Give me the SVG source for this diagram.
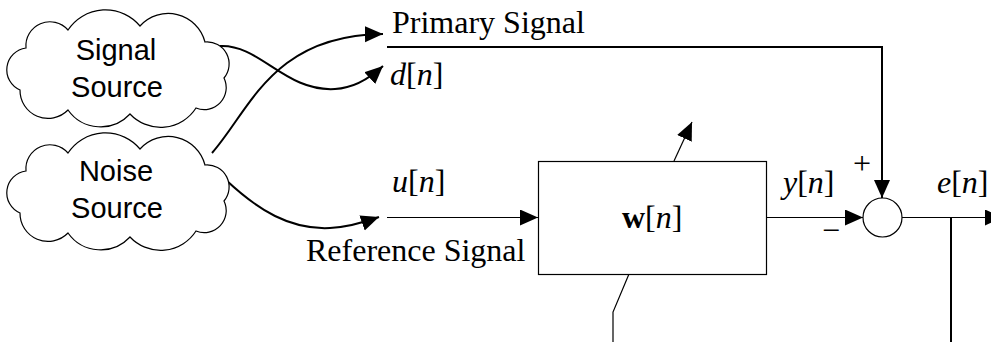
<svg xmlns="http://www.w3.org/2000/svg" xmlns:xlink="http://www.w3.org/1999/xlink" width="991" height="342" viewBox="0 0 991 342">
<style>
.cloud{fill:#fff;stroke:#000;stroke-width:1.2}
.ctext{font-family:"Liberation Sans",Arial,sans-serif;font-size:29px;text-anchor:middle;fill:#000}
.t{font-family:"Liberation Serif","Times New Roman",serif;font-size:32px;fill:#000}
.i{font-style:italic}
.b{font-weight:bold}
.thick{fill:none;stroke:#000;stroke-width:2}
.thin{fill:none;stroke:#000;stroke-width:1.2}
</style>
<defs>
<marker id="ah" markerWidth="20" markerHeight="18" refX="18" refY="8" orient="auto" markerUnits="userSpaceOnUse">
<path d="M0,0 L18,8 L0,16 z" fill="#000"/>
</marker>
<path id="cloudShape" d="M26,48 A24,24 0 0 1 68,30 A45,45 0 0 1 140,26 A38,38 0 0 1 205,42 A22,22 0 0 1 224,78 A22,22 0 0 1 196,108 A42,42 0 0 1 130,114 A40,40 0 0 1 68,110 A28,28 0 0 1 20,90 A22,22 0 0 1 26,48 Z"/>
</defs>
<g id="connectors">
<path class="thick" d="M220,46 C260,44 285,92 335,89 C355,88 370,78 383,66" marker-end="url(#ah)"/>
<path class="thick" d="M212,153 C250,110 272,35 383,34" marker-end="url(#ah)"/>
<path class="thick" d="M226,180 C258,210 290,230 330,228 C350,227 365,222 379,217" marker-end="url(#ah)"/>
<polyline class="thick" points="387,47 882,47 882,198" marker-end="url(#ah)"/>
<line class="thin" x1="387" y1="217.5" x2="538" y2="217.5" marker-end="url(#ah)"/>
<line class="thin" x1="766" y1="217.5" x2="863" y2="217.5" marker-end="url(#ah)"/>
<line class="thin" x1="902" y1="217.5" x2="1003" y2="217.5" marker-end="url(#ah)"/>
<line class="thick" x1="951" y1="217.5" x2="951" y2="342"/>
<line class="thin" x1="674" y1="161" x2="692" y2="122" marker-end="url(#ah)"/>
<polyline class="thin" points="629,274 613,312 613,342"/>
</g>
<g id="signal-source">
<use xlink:href="#cloudShape" class="cloud"/>
<text class="ctext" x="116" y="60">Signal</text>
<text class="ctext" x="117" y="97">Source</text>
</g>
<g id="noise-source">
<use xlink:href="#cloudShape" class="cloud" transform="translate(0,123)"/>
<text class="ctext" x="116" y="181">Noise</text>
<text class="ctext" x="117" y="218">Source</text>
</g>
<g id="filter">
<rect x="538.5" y="161.5" width="228" height="113" fill="#fff" stroke="#000" stroke-width="1.2"/>
<text class="t" x="622" y="228"><tspan class="b">w</tspan>[<tspan class="i">n</tspan>]</text>
</g>
<g id="summer">
<circle cx="882.5" cy="217.5" r="19.5" fill="#fff" stroke="#000" stroke-width="1.2"/>
<text class="t" x="862" y="174" text-anchor="middle" font-size="27">+</text>
<text class="t" x="831" y="241" text-anchor="middle">−</text>
</g>
<g id="labels">
<text class="t" x="392" y="33">Primary Signal</text>
<text class="t" x="390" y="85"><tspan class="i">d</tspan>[<tspan class="i">n</tspan>]</text>
<text class="t" x="392" y="192"><tspan class="i">u</tspan>[<tspan class="i">n</tspan>]</text>
<text class="t" x="306" y="261">Reference Signal</text>
<text class="t" x="783" y="193"><tspan class="i">y</tspan>[<tspan class="i">n</tspan>]</text>
<text class="t" x="937" y="193"><tspan class="i">e</tspan>[<tspan class="i">n</tspan>]</text>
</g>
</svg>
